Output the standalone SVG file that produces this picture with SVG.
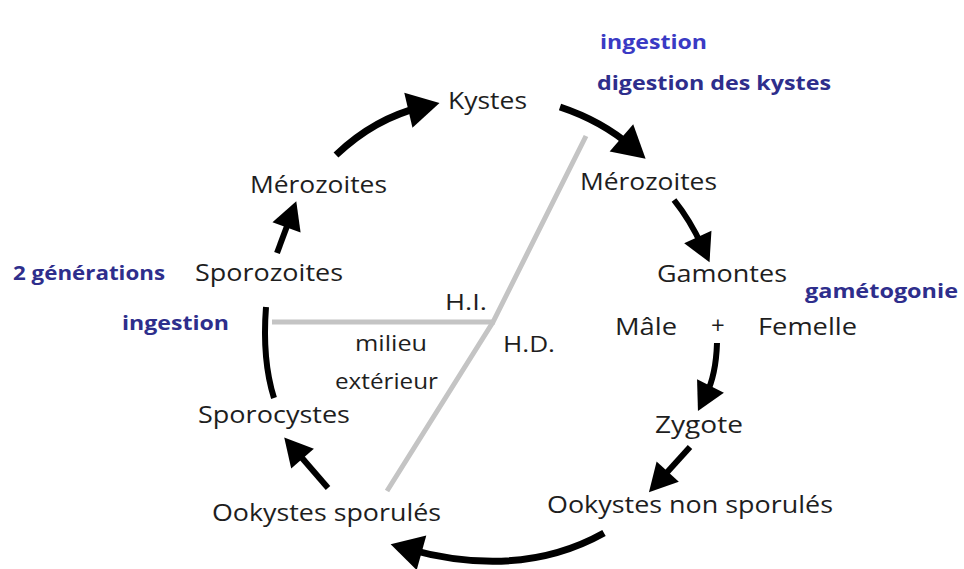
<svg xmlns="http://www.w3.org/2000/svg" width="964" height="569" viewBox="0 0 964 569">
<defs>
<style>
.t{font-family:"Open Sans","Noto Sans","Liberation Sans",sans-serif;font-size:24px;fill:#1e1e1e}
.s{font-size:21px}
.b{font-family:"Open Sans","Noto Sans","Liberation Sans",sans-serif;font-size:20px;font-weight:bold;fill:#2e2e8c}
.a{fill:none;stroke:#000;stroke-width:6}
.A{fill:none;stroke:#000;stroke-width:7}
.g{fill:none;stroke:#c4c4c4;stroke-width:5}
</style>
<marker id="hL" markerUnits="userSpaceOnUse" markerWidth="32" markerHeight="36" refX="14" refY="18" orient="auto" overflow="visible"><path d="M0,0 L32,18 L0,36 z" fill="#000"/></marker>
<marker id="hS" markerUnits="userSpaceOnUse" markerWidth="28" markerHeight="30" refX="10" refY="15" orient="auto" overflow="visible"><path d="M0,0 L28,15 L0,30 z" fill="#000"/></marker>
</defs>
<rect width="964" height="569" fill="#fff"/>
<g id="separators">
<path class="g" d="M272,322 L495,322"/>
<path class="g" d="M586,136 L493,322 L387,491"/>
</g>
<g id="connectors">
<path class="A" d="M336,155 Q375,118 422,107" marker-end="url(#hL)"/>
<path class="A" d="M560,107 Q602,121 632,147" marker-end="url(#hL)"/>
<path class="a" d="M674,200 Q690,220 702,246" marker-end="url(#hS)"/>
<path class="a" d="M717,343 Q716,375 706,395" marker-end="url(#hS)"/>
<path class="a" d="M690,447 L661,479" marker-end="url(#hS)"/>
<path class="A" d="M604,533 Q520,580 408,549" marker-end="url(#hL)"/>
<path class="a" d="M328,488 L296,451" marker-end="url(#hS)"/>
<path class="a" d="M266,307 Q262,360 274,398"/>
<path class="a" d="M277,253 L290,218" marker-end="url(#hS)"/>
</g>
<g id="kystes"><text class="t" x="448" y="109" textLength="79" lengthAdjust="spacingAndGlyphs">Kystes</text></g>
<g id="merozoites-hd"><text class="t" x="580" y="190" textLength="137" lengthAdjust="spacingAndGlyphs">Mérozoites</text></g>
<g id="gamontes"><text class="t" x="657" y="282" textLength="130" lengthAdjust="spacingAndGlyphs">Gamontes</text></g>
<g id="male-femelle">
<text class="t" x="615" y="335" textLength="62" lengthAdjust="spacingAndGlyphs">Mâle</text>
<text class="t" x="711" y="334">+</text>
<text class="t" x="758" y="335" textLength="99" lengthAdjust="spacingAndGlyphs">Femelle</text>
</g>
<g id="zygote"><text class="t" x="655" y="433" textLength="88" lengthAdjust="spacingAndGlyphs">Zygote</text></g>
<g id="ookystes-non-sporules"><text class="t" x="547" y="513" textLength="286" lengthAdjust="spacingAndGlyphs">Ookystes non sporulés</text></g>
<g id="ookystes-sporules"><text class="t" x="212" y="521" textLength="229" lengthAdjust="spacingAndGlyphs">Ookystes sporulés</text></g>
<g id="sporocystes"><text class="t" x="198" y="423" textLength="152" lengthAdjust="spacingAndGlyphs">Sporocystes</text></g>
<g id="sporozoites"><text class="t" x="195" y="281" textLength="148" lengthAdjust="spacingAndGlyphs">Sporozoites</text></g>
<g id="merozoites-hi"><text class="t" x="250" y="193" textLength="137" lengthAdjust="spacingAndGlyphs">Mérozoites</text></g>
<g id="zones">
<text class="t s" x="445" y="310" textLength="42" lengthAdjust="spacingAndGlyphs">H.I.</text>
<text class="t s" x="503" y="352" textLength="52" lengthAdjust="spacingAndGlyphs">H.D.</text>
<text class="t s" x="355" y="351" textLength="72" lengthAdjust="spacingAndGlyphs" fill="#333">milieu</text>
<text class="t s" x="335" y="389" textLength="103" lengthAdjust="spacingAndGlyphs">extérieur</text>
</g>
<g id="labels">
<text class="b" x="600" y="49" textLength="107" lengthAdjust="spacingAndGlyphs" style="fill:#3a3ac4">ingestion</text>
<text class="b" x="597" y="90" textLength="234" lengthAdjust="spacingAndGlyphs">digestion des kystes</text>
<text class="b" x="13" y="280" textLength="152" lengthAdjust="spacingAndGlyphs">2 générations</text>
<text class="b" x="122" y="330" textLength="107" lengthAdjust="spacingAndGlyphs">ingestion</text>
<text class="b" x="805" y="298" textLength="153" lengthAdjust="spacingAndGlyphs">gamétogonie</text>
</g>
</svg>
